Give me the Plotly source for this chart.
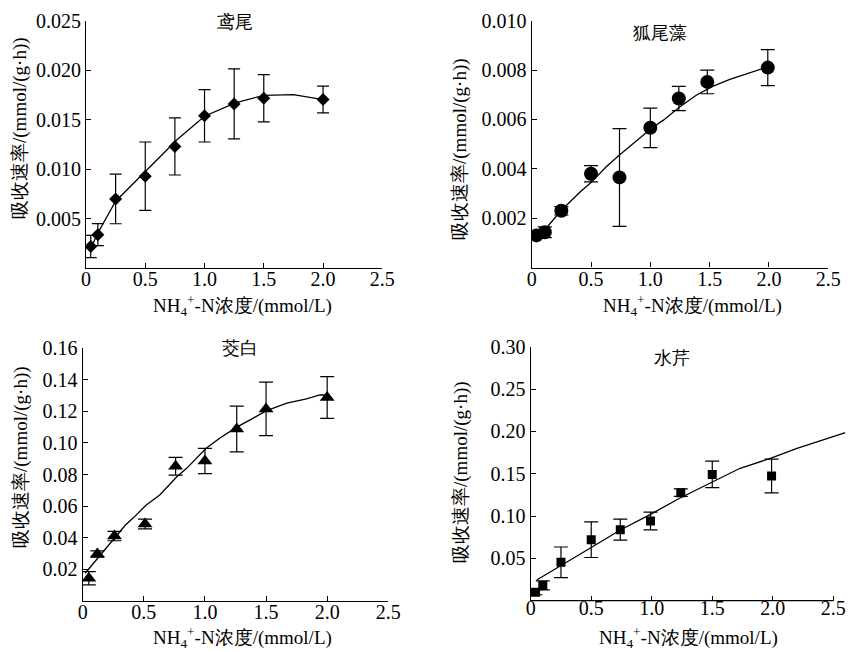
import plotly.graph_objects as go

# ---------------- data ----------------
# 鸢尾
x1 = [0.04, 0.10, 0.25, 0.50, 0.75, 1.00, 1.25, 1.50, 2.00]
y1 = [0.00220, 0.00340, 0.00700, 0.00930, 0.01230, 0.01540, 0.01660, 0.01717, 0.01704]
e1 = [0.00113, 0.00112, 0.00250, 0.00345, 0.00288, 0.00265, 0.00353, 0.00238, 0.00135]
cx1 = [0.03, 0.10, 0.25, 0.43, 0.60, 0.77, 1.00, 1.26, 1.50, 1.75, 2.00]
cy1 = [0.00175, 0.00357, 0.00677, 0.00896, 0.01098, 0.01300, 0.01535, 0.01670, 0.01747, 0.01754, 0.01704]

# 狐尾藻
x2 = [0.04, 0.11, 0.25, 0.50, 0.74, 1.00, 1.24, 1.48, 1.99]
y2 = [0.00130, 0.00143, 0.00230, 0.00380, 0.00365, 0.00566, 0.00685, 0.00752, 0.00810]
e2 = [0.00010, 0.00022, 0.00017, 0.00033, 0.00198, 0.00080, 0.00049, 0.00048, 0.00073]
cx2 = [0.02, 0.11, 0.24, 0.41, 0.50, 0.63, 0.74, 0.89, 1.01, 1.11, 1.25, 1.39, 1.53, 1.67, 1.81, 1.99]
cy2 = [0.00128, 0.00152, 0.00227, 0.00307, 0.00344, 0.00409, 0.00456, 0.00517, 0.00564, 0.00597,
       0.00651, 0.00699, 0.00735, 0.00762, 0.00784, 0.00813]

# 茭白
x3 = [0.05, 0.12, 0.26, 0.51, 0.76, 1.00, 1.26, 1.50, 2.00]
y3 = [0.0142, 0.0296, 0.0410, 0.0486, 0.0852, 0.0886, 0.1089, 0.1216, 0.1288]
e3 = [0.0042, 0.0020, 0.0030, 0.0031, 0.0056, 0.0080, 0.0145, 0.0170, 0.0132]
cx3 = [0.02, 0.12, 0.26, 0.35, 0.41, 0.52, 0.63, 0.77, 0.85, 1.01, 1.12, 1.26, 1.37, 1.50, 1.67, 1.83, 1.94, 2.00]
cy3 = [0.0174, 0.0268, 0.0395, 0.0480, 0.0522, 0.0607, 0.0670, 0.0786, 0.0839, 0.0966, 0.1030,
       0.1100, 0.1146, 0.1203, 0.1252, 0.1279, 0.1304, 0.1304]

# 水芹
x4 = [0.04, 0.10, 0.25, 0.50, 0.74, 0.99, 1.24, 1.50, 1.99]
y4 = [0.0100, 0.0180, 0.0453, 0.0720, 0.0839, 0.0941, 0.1276, 0.1492, 0.1472]
e4 = [0.0030, 0.0053, 0.0181, 0.0210, 0.0124, 0.0104, 0.0044, 0.0157, 0.0199]
cx4 = [0.05, 0.24, 0.49, 0.74, 0.99, 1.23, 1.48, 1.73, 1.98, 2.20, 2.60]
cy4 = [0.0244, 0.0402, 0.0619, 0.0835, 0.1020, 0.1210, 0.1387, 0.1564, 0.1680, 0.1800, 0.1984]

titles = ["鸢尾", "狐尾藻", "茭白", "水芹"]
x_ticks = [0, 0.5, 1.0, 1.5, 2.0, 2.5]
x_ticktext = ["0", "0.5", "1.0", "1.5", "2.0", "2.5"]
y1_ticks = [0.005, 0.010, 0.015, 0.020, 0.025]
y1_text = ["0.005", "0.010", "0.015", "0.020", "0.025"]
y2_ticks = [0.002, 0.004, 0.006, 0.008, 0.010]
y2_text = ["0.002", "0.004", "0.006", "0.008", "0.010"]
y3_ticks = [0.02, 0.04, 0.06, 0.08, 0.10, 0.12, 0.14, 0.16]
y3_text = ["0.02", "0.04", "0.06", "0.08", "0.10", "0.12", "0.14", "0.16"]
y4_ticks = [0.05, 0.10, 0.15, 0.20, 0.25, 0.30]
y4_text = ["0.05", "0.10", "0.15", "0.20", "0.25", "0.30"]

xlabel = "NH<sub>4</sub><sup>+</sup>-N浓度/(mmol/L)"
ylabel = "吸收速率/(mmol/(g·h))"

FONT = "Liberation Serif, DejaVu Serif, serif"
W, H = 851, 652

fig = go.Figure()

def add_panel(i, x, y, e, cx, cy, symbol, msize, capw):
    xa = "x" if i == 1 else f"x{i}"
    ya = "y" if i == 1 else f"y{i}"
    fig.add_trace(go.Scatter(x=cx, y=cy, mode="lines", line=dict(color="black", width=1.3),
                             xaxis=xa, yaxis=ya, showlegend=False, hoverinfo="skip"))
    fig.add_trace(go.Scatter(x=x, y=y, mode="markers",
                             marker=dict(symbol=symbol, size=msize, color="black"),
                             error_y=dict(type="data", array=e, visible=True, color="black",
                                          thickness=1.2, width=capw),
                             xaxis=xa, yaxis=ya, showlegend=False))

add_panel(1, x1, y1, e1, cx1, cy1, "diamond", 10, 6)
add_panel(2, x2, y2, e2, cx2, cy2, "circle", 14, 7)
add_panel(3, x3, y3, e3, cx3, cy3, "triangle-up", 13, 7)
add_panel(4, x4, y4, e4, cx4, cy4, "square", 9, 7)

def px_x(a, b):
    return [a / W, b / W]

def px_y(top, bottom):
    return [1 - bottom / H, 1 - top / H]

axis_common = dict(showgrid=False, zeroline=False, showline=True, linecolor="black", linewidth=1.2,
                   ticks="inside", ticklen=5, tickwidth=1.1, tickcolor="black", automargin=False,
                   tickfont=dict(family=FONT, size=20, color="black"))

layout = dict(
    template="none",
    width=W, height=H, margin=dict(l=0, r=0, t=0, b=0, pad=0, autoexpand=False),
    paper_bgcolor="white", plot_bgcolor="white",
    font=dict(family=FONT, color="black"),
    showlegend=False,
)

panels = [
    # (x domain px, y domain px, yrange, yticks, ytext, xrange)
    ((86, 382.3), (20.7, 268.3), [0, 0.025], y1_ticks, y1_text, [0, 2.5]),
    ((531.7, 828.3), (20.7, 267.5), [0, 0.010], y2_ticks, y2_text, [0, 2.5]),
    ((82.7, 388.3), (348.3, 600.7), [0, 0.16], y3_ticks, y3_text, [0, 2.5]),
    ((530.7, 845.4), (346.7, 600.7), [0, 0.30], y4_ticks, y4_text, [0, 2.6]),
]

for i, (xd, yd, yr, yt, ytt, xr) in enumerate(panels, start=1):
    xk = "xaxis" if i == 1 else f"xaxis{i}"
    yk = "yaxis" if i == 1 else f"yaxis{i}"
    ya = "y" if i == 1 else f"y{i}"
    xa = "x" if i == 1 else f"x{i}"
    xopt = dict(axis_common, domain=px_x(*xd), range=xr, tickvals=x_ticks, ticktext=x_ticktext,
                anchor=ya, ticklabelstandoff=-7)
    if i == 4:
        xopt["showline"] = False
    layout[xk] = xopt
    layout[yk] = dict(axis_common, domain=px_y(*yd), range=yr, tickvals=yt, ticktext=ytt,
                      anchor=xa)

fig.update_layout(**layout)

# x axis line of panel 4 ends at 2.5 while the fitted line continues beyond
fig.add_shape(type="line", xref="x4", yref="y4 domain", x0=0, x1=2.5, y0=0, y1=0,
              line=dict(color="black", width=1.2))

# text annotations: panel titles, axis titles
ann_pos = [
    # title (x,y), xlabel (x,y), ylabel (x,y)
    ((235, 22), (243, 305), (20, 128)),
    ((660, 33), (692, 306), (460, 149)),
    ((240, 348), (242, 637), (21, 457)),
    ((672, 358), (688, 637), (461, 472)),
]
for i, (tp, xp, yp) in enumerate(ann_pos):
    fig.add_annotation(text=titles[i], x=tp[0] / W, y=1 - tp[1] / H, xref="paper", yref="paper",
                       showarrow=False, font=dict(family=FONT, size=18, color="black"),
                       xanchor="center", yanchor="middle")
    fig.add_annotation(text=xlabel, x=xp[0] / W, y=1 - xp[1] / H, xref="paper", yref="paper",
                       showarrow=False, font=dict(family=FONT, size=19, color="black"),
                       xanchor="center", yanchor="middle")
    fig.add_annotation(text=ylabel, x=yp[0] / W, y=1 - yp[1] / H, xref="paper", yref="paper",
                       showarrow=False, textangle=-90, font=dict(family=FONT, size=19, color="black"),
                       xanchor="center", yanchor="middle")

page_fix = (
    "var de=document.documentElement, b=document.body;"
    "de.style.margin='0'; de.style.padding='0'; de.style.overflow='hidden';"
    "b.style.margin='0'; b.style.padding='0'; b.style.overflow='hidden';"
)

fig.write_html("out.html", config={"displayModeBar": False}, post_script=page_fix)
